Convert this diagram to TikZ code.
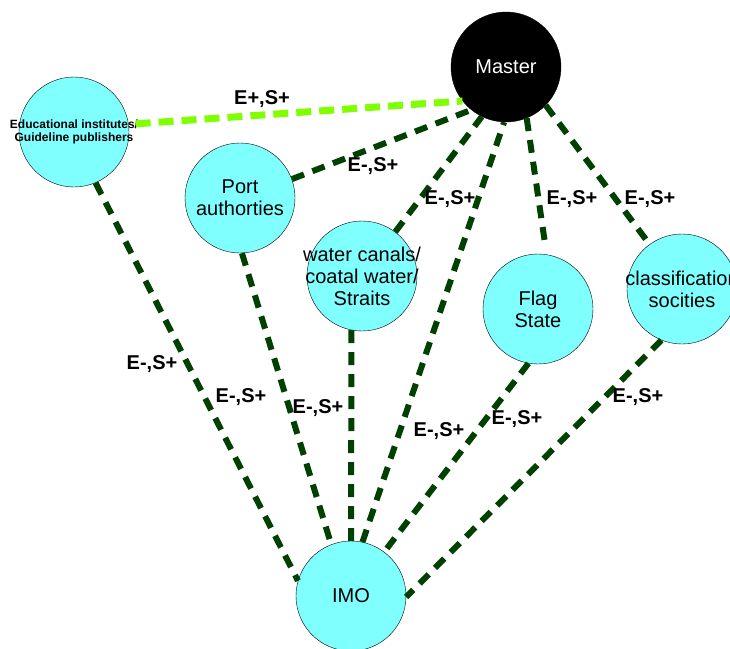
\documentclass[tikz,border=0pt]{standalone}
\usepackage{fontspec}
\setmainfont{Liberation Sans}
\definecolor{cyanlight}{RGB}{128,255,255}
\definecolor{linkgreen}{RGB}{0,64,0}
\definecolor{goodgreen}{RGB}{128,255,0}
\begin{document}
\begin{tikzpicture}[
        x=1pt, y=-1pt,
        every node/.style={draw, circle, thin, fill=cyanlight, minimum size=110pt, inner sep=0pt, align=center, font=\fontsize{20}{22}\selectfont},
        master/.style={fill=black, text=white},
        inside/.style={draw=none, fill=none, minimum size=0pt},
        small/.style={inside, font=\bfseries\fontsize{12}{13}\selectfont},
        lab/.style={inside, font=\bfseries\fontsize{20}{22}\selectfont},
        link/.style={draw=linkgreen, line width=6pt, dash pattern=on 13pt off 9pt},
        good/.style={draw=goodgreen, line width=7pt, dash pattern=on 15pt off 8pt},
    ]
    \useasboundingbox (0,0) rectangle (730,648);
    % actors
    \node[master](master) at (506,67) {Master};
    \node[label={[small]center:Educational institutes/\\Guideline publishers}](edu) at (74,132) {};
    \node[](port) at (240,198) {Port\\authorties};
    \node[label={[inside]center:water canals/\\coatal water/\\Straits}](canal) at (362,276) {};
    \node[](flag) at (538,309) {Flag\\State};
    \node[label={[inside]center:classification\\socities}](class) at (682,289) {};
    \node[](imo) at (351,596) {IMO};
    % links to the master
    \draw[good, shorten <=7pt] (edu.8) -- (master.218);
    \draw[link] (port.20) -- (master.231);
    \draw[link] (canal.53) -- (master.244);
    \draw[link] (imo.78) -- (master.268);
    \draw[link, shorten >=10pt] (master.292) -- (flag.81);
    \draw[link] (master.316) -- (class.126);
    % links to the IMO
    \draw[link] (edu.293) -- (imo.164);
    \draw[link] (port.272) -- (imo.111);
    \draw[link] (canal.259) -- (imo.90);
    \draw[link] (flag.260) -- (imo.53);
    \draw[link] (class.248) -- (imo.359);
    % labels
    \node[lab](eduMaster) at (262,99) {E+,S+};
    \node[lab](portMaster) at (373,166) {E-,S+};
    \node[lab](canalMaster) at (450,199) {E-,S+};
    \node[lab](flagMaster) at (572,199) {E-,S+};
    \node[lab](classMaster) at (650,199) {E-,S+};
    \node[lab](eduImo) at (152,364) {E-,S+};
    \node[lab](portImo) at (241,397) {E-,S+};
    \node[lab](canalImo) at (318,408) {E-,S+};
    \node[lab](masterImo) at (439,431) {E-,S+};
    \node[lab](flagImo) at (517,419) {E-,S+};
    \node[lab](classImo) at (638,397) {E-,S+};
\end{tikzpicture}
\end{document}
